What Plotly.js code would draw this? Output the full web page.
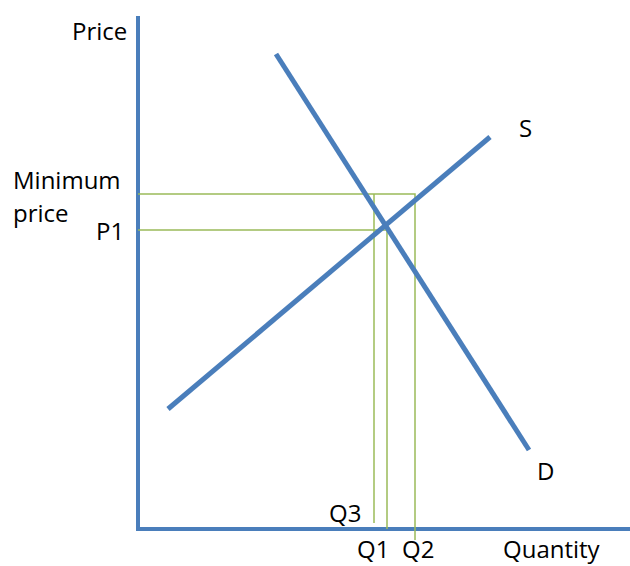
<!DOCTYPE html>
<html>
<head>
<meta charset="utf-8">
<script src="https://cdn.plot.ly/plotly-3.0.1.min.js"></script>
<style>html,body{margin:0;padding:0;background:#fff;}#chart{width:630px;height:566px;}</style>
</head>
<body>
<div id="chart"></div>
<script>
// Curve endpoints (quantity, price) in chart units
const demandQ = [27.6, 78.2];
const demandP = [95, 15.8];
const supplyQ = [6, 70.4];
const supplyP = [24, 78.4];
// Key levels
const minPrice = 67;
const p1 = 59.8;
const q1 = 49.8;
const q2 = 55.4;
const q3 = 47.2;
const axisQMax = 98.4;
const axisPMax = 102.6;

const blue = '#4a7ebb';
const green = '#9bbb59';

const traces = [
  {x: [0, 0], y: [-0.4, axisPMax], mode: 'lines', line: {color: blue, width: 4}},
  {x: [-0.4, axisQMax], y: [0, 0], mode: 'lines', line: {color: blue, width: 4}},
  {x: [0, q2, q2], y: [minPrice, minPrice, -2.2], mode: 'lines', line: {color: green, width: 1.5}},
  {x: [q3, q3], y: [minPrice, 1.2], mode: 'lines', line: {color: green, width: 1.5}},
  {x: [0, q1, q1], y: [p1, p1, 0], mode: 'lines', line: {color: green, width: 1.5}},
  {x: demandQ, y: demandP, mode: 'lines', line: {color: blue, width: 5}},
  {x: supplyQ, y: supplyP, mode: 'lines', line: {color: blue, width: 5}}
].map(t => Object.assign(t, {hoverinfo: 'skip', showlegend: false}));

const f = {family: '"Open Sans", Lato, sans-serif', size: 24, color: '#000'};
function ann(text, x, y, xanchor) {
  return {text: text, x: x, y: y, xref: 'x', yref: 'y', showarrow: false, xanchor: xanchor || 'center', yanchor: 'middle', font: f};
}
const annotations = [
  ann('Price', -1.8, 99.8, 'right'),
  ann('Minimum', -25.4, 70, 'left'),
  ann('price', -25.4, 63.4, 'left'),
  ann('P1', -2.4, 59.8, 'right'),
  ann('S', 77.4, 80.4),
  ann('D', 81.4, 11.8),
  ann('Q3', 41.4, 3.4),
  ann('Q1', 47, -3.9),
  ann('Q2', 56, -3.9),
  ann('Quantity', 82.8, -3.9)
];

const layout = {
  width: 630, height: 566,
  margin: {l: 0, r: 0, t: 0, b: 0, pad: 0},
  paper_bgcolor: '#fff', plot_bgcolor: '#fff',
  xaxis: {range: [-27.6, 98.4], visible: false, fixedrange: true},
  yaxis: {range: [-7.4, 105.8], visible: false, fixedrange: true},
  annotations: annotations,
  showlegend: false
};

Plotly.newPlot('chart', traces, layout, {staticPlot: true, displayModeBar: false});
</script>
</body>
</html>
